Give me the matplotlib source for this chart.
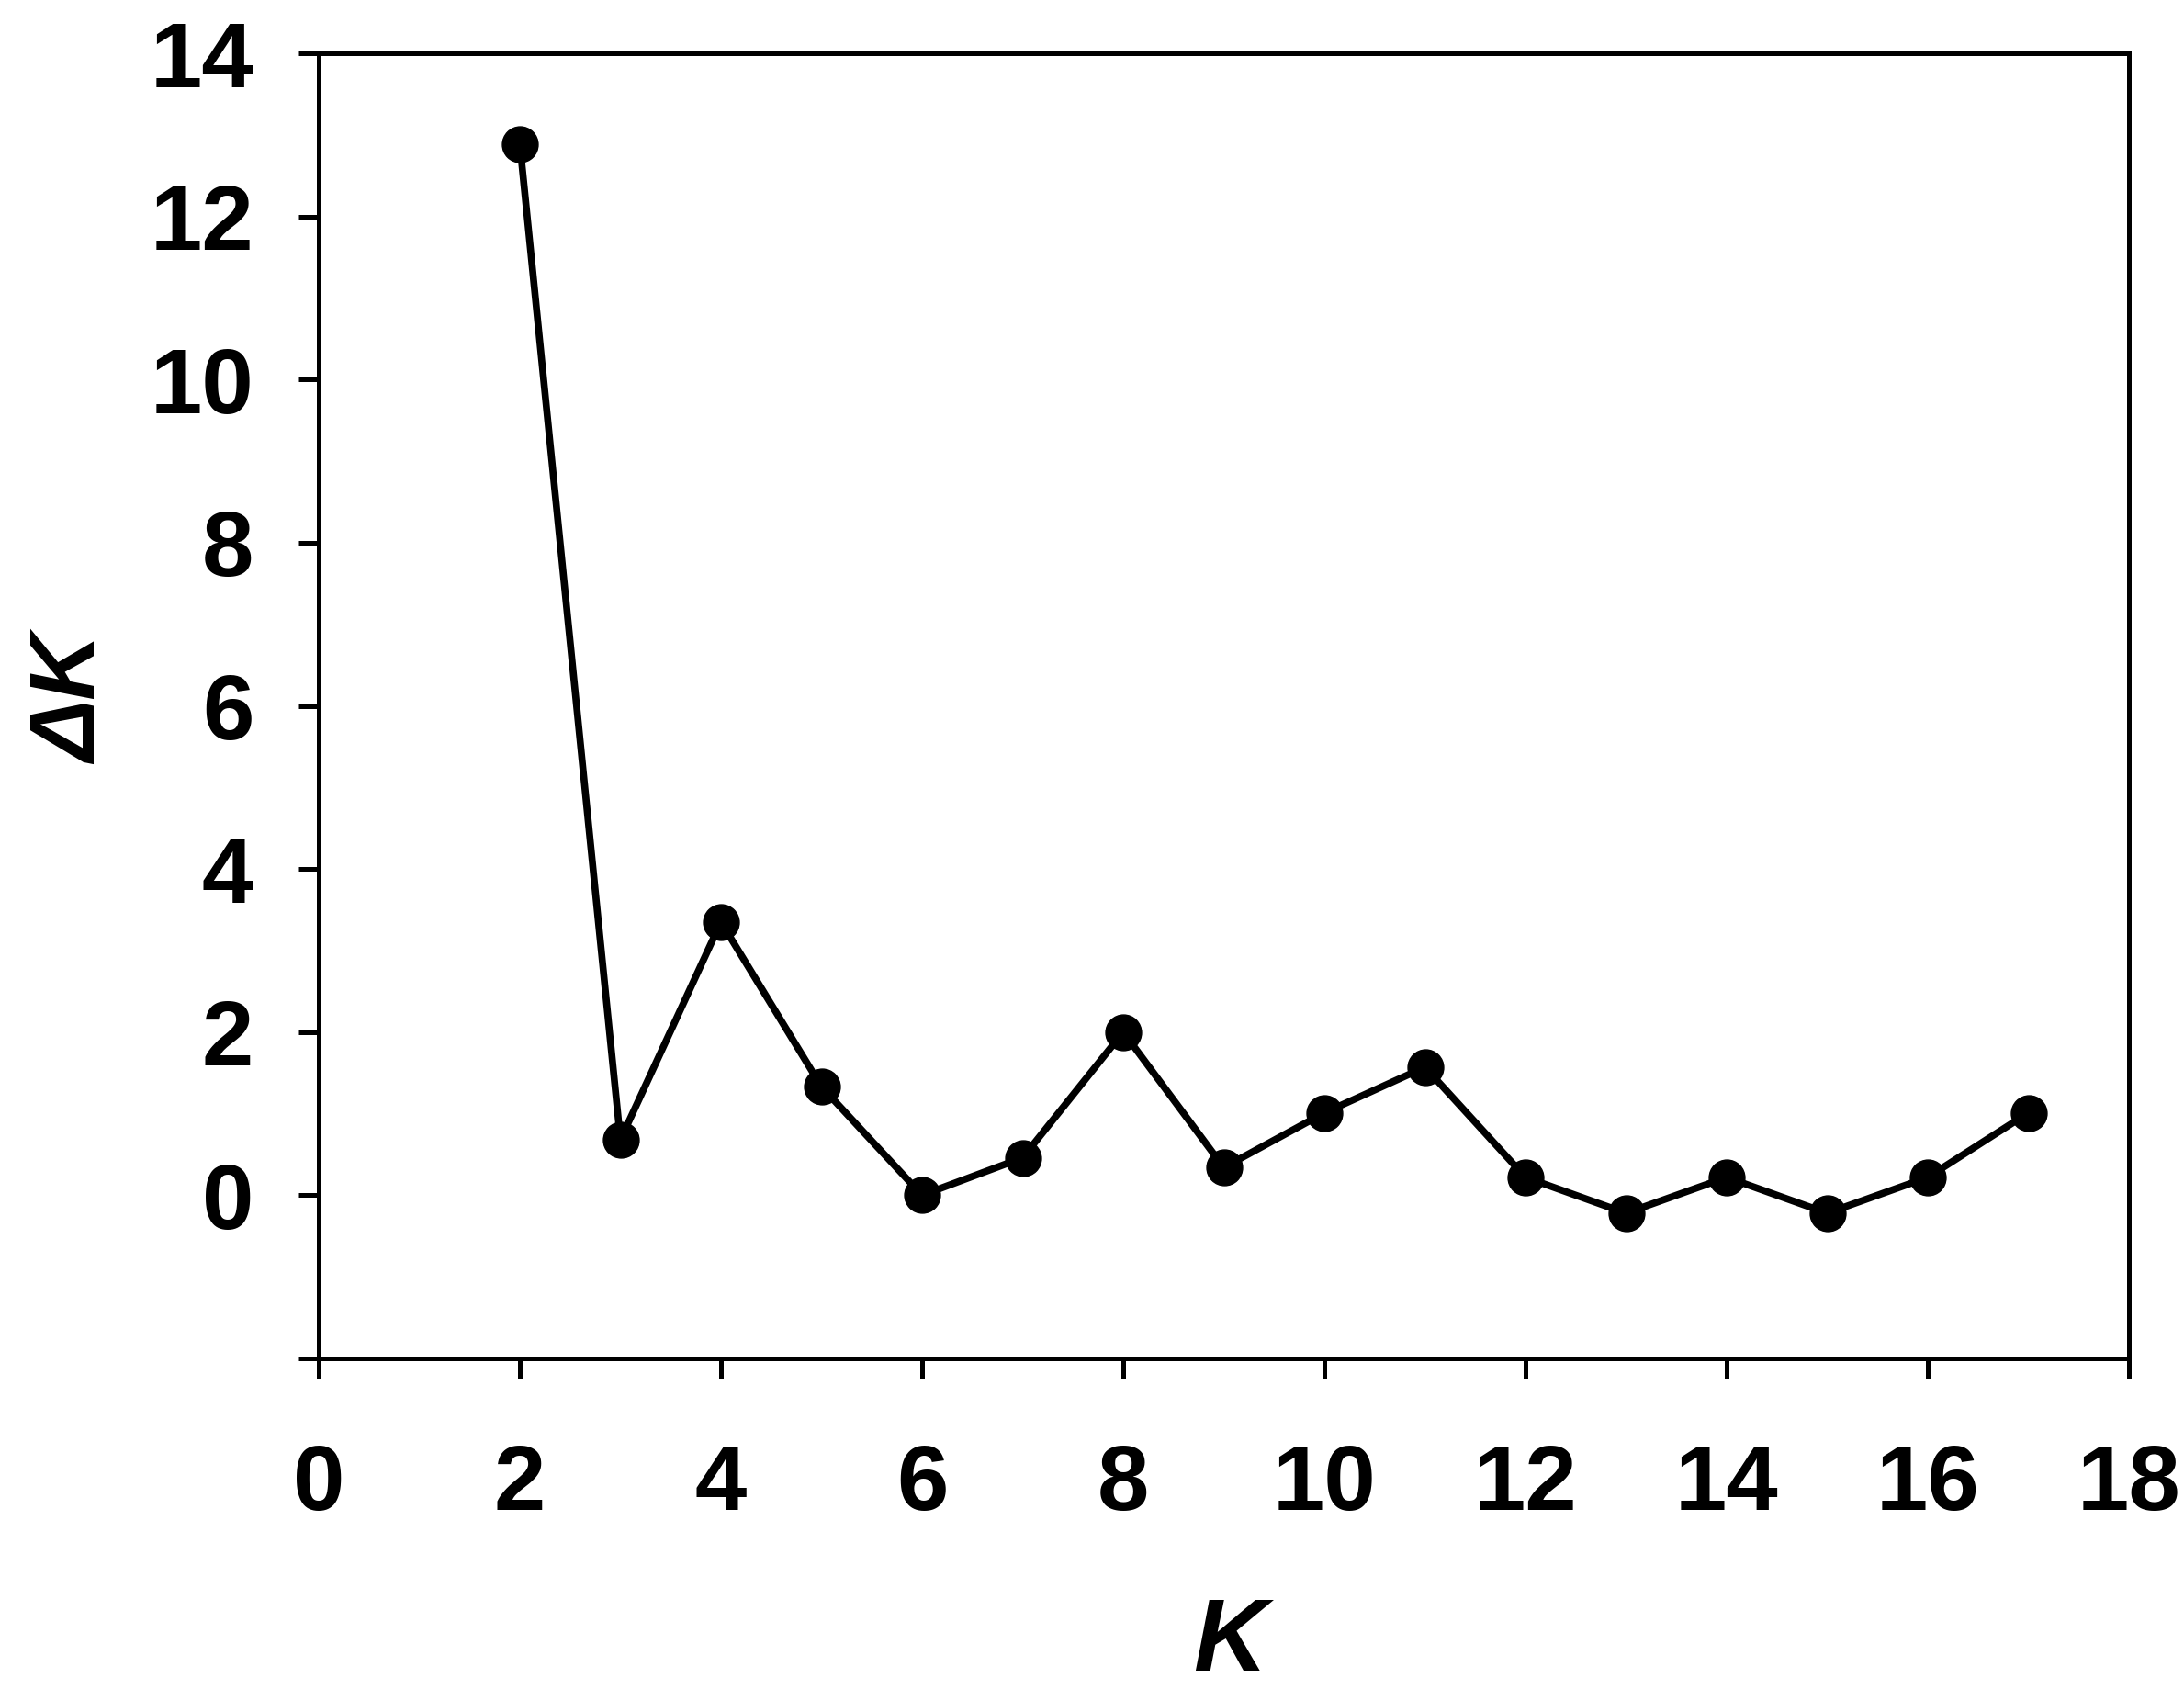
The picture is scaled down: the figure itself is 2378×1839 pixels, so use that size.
import matplotlib
matplotlib.use("Agg")
import matplotlib.pyplot as plt

# Delta K values
k_values = [2, 3, 4, 5, 6, 7, 8, 9, 10, 11, 12, 13, 14, 15, 16, 17]
delta_k = [12.89, 0.68, 3.35, 1.33, 0.0, 0.46, 2.0, 0.34, 1.01, 1.57,
           0.22, -0.22, 0.22, -0.22, 0.22, 1.01]
x_ticks = [0, 2, 4, 6, 8, 10, 12, 14, 16, 18]
y_ticks = [-2, 0, 2, 4, 6, 8, 10, 12, 14]
y_tick_labels = ["", "0", "2", "4", "6", "8", "10", "12", "14"]

plt.rcParams['font.family'] = ['Liberation Sans', 'DejaVu Sans']

W, H = 2378, 1839
fig = plt.figure(figsize=(W / 100, H / 100), dpi=100)
ax = fig.add_axes([347 / W, 1 - 1479 / H, (2318 - 347) / W, (1479 - 58) / H])

ax.plot(k_values, delta_k, color="black", linewidth=5.5, marker="o",
        markersize=28, markerfacecolor="black", markeredgecolor="black")

ax.set_xlim(0, 18)
ax.set_ylim(-2, 14)
ax.set_xticks(x_ticks)
ax.set_yticks(y_ticks)
ax.set_yticklabels(y_tick_labels)

for s in ax.spines.values():
    s.set_linewidth(3.6)
ax.tick_params(axis="both", direction="out", length=16, width=3.6,
               labelsize=73)
ax.tick_params(axis="x", pad=50)
ax.tick_params(axis="y", pad=35)
for lab in ax.get_xticklabels() + ax.get_yticklabels():
    lab.set_fontweight("bold")

fig.text(1339 / W, 1 - 1790 / H, "K", fontsize=80, fontweight="bold",
         fontstyle="italic", ha="center", va="center")
fig.text(80 / W, 1 - 762 / H, "ΔK", fontsize=72, fontweight="bold",
         fontstyle="italic", ha="center", va="center", rotation=90)

fig.savefig("out.png", dpi=100, facecolor="white")
